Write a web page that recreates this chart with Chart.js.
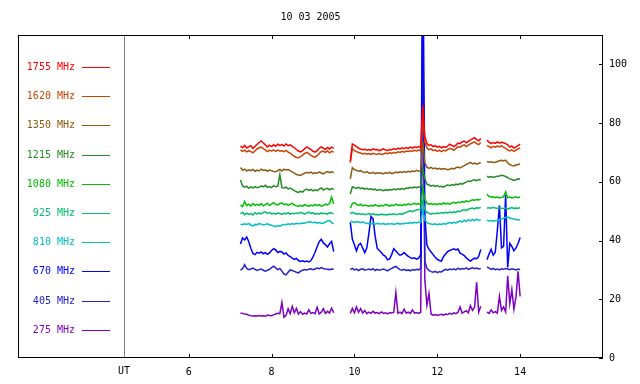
<!DOCTYPE html>
<html>
<head>
<meta charset="utf-8">
<script src="https://cdn.jsdelivr.net/npm/chart.js@4.4.1/dist/chart.umd.min.js"></script>
<style>
  html, body { margin: 0; padding: 0; background: #fff; }
  canvas { display: block; }
</style>
</head>
<body>
<canvas id="chart" width="640" height="384"></canvas>
<script>
// ---- data ----
const chartTitle = '10 03 2005';
const freqLabels = ['1755 MHz', '1620 MHz', '1350 MHz', '1215 MHz', '1080 MHz',
                    '925 MHz', '810 MHz', '670 MHz', '405 MHz', '275 MHz'];
const colors = ['#ff0000', '#c84400', '#8c5a10', '#228b22', '#00c000',
                '#00c070', '#00c0c0', '#0000ff', '#2424c8', '#8000c0'];
const xTicks = [6, 8, 10, 12, 14];
const yTicks = [0, 20, 40, 60, 80, 100];

// UT hours (three recording blocks)
const hours = [
  7.25,7.3,7.35,7.4,7.45,7.5,7.55,7.6,7.65,7.7,
  7.75,7.8,7.85,7.9,7.95,8,8.05,8.1,8.15,8.2,
  8.25,8.3,8.35,8.4,8.45,8.5,8.55,8.6,8.65,8.7,
  8.75,8.8,8.85,8.9,8.95,9,9.05,9.1,9.15,9.2,
  9.25,9.3,9.35,9.4,9.45,9.5,
  9.9,9.95,10,10.05,10.1,10.15,10.2,10.25,10.3,10.35,
  10.4,10.45,10.5,10.55,10.6,10.65,10.7,10.75,10.8,10.85,
  10.9,10.95,11,11.05,11.1,11.15,11.2,11.25,11.3,11.35,
  11.4,11.45,11.5,11.55,11.6,11.65,11.7,11.75,11.8,11.85,
  11.9,11.95,12,12.05,12.1,12.15,12.2,12.25,12.3,12.35,
  12.4,12.45,12.5,12.55,12.6,12.65,12.7,12.75,12.8,12.85,
  12.9,12.95,13,13.05,
  13.2,13.25,13.3,13.35,13.4,13.45,13.5,13.55,13.6,13.65,
  13.7,13.75,13.8,13.85,13.9,13.95,14
];

const v1755 = [
  72.2,71.6,72.4,71.5,72.0,72.3,71.4,72.0,72.8,73.4,
  73.9,73.2,72.6,71.9,72.5,72.0,72.6,72.1,72.8,72.4,
  72.7,72.2,72.9,72.3,72.6,72.1,71.6,71.0,70.5,70.2,
  70.6,71.3,71.8,71.5,71.0,70.4,70.1,70.6,71.4,71.9,
  71.5,71.0,71.7,71.2,71.8,71.4,
  67.0,72.9,72.5,72.0,71.4,71.2,70.9,71.1,70.8,71.0,
  70.7,71.2,70.9,71.0,70.6,70.9,71.2,70.8,70.7,71.0,
  70.9,71.3,71.0,71.5,71.2,71.6,71.3,71.7,71.4,71.8,
  71.5,71.9,71.6,72.0,71.7,86.0,75.5,73.0,72.4,72.6,
  72.0,72.3,71.8,72.1,71.6,72.0,71.7,72.2,72.8,72.4,
  72.0,72.5,73.2,73.0,73.6,73.9,73.3,73.8,74.3,74.6,
  75.0,74.4,74.0,74.7,
  74.2,73.5,73.0,73.4,73.1,73.6,73.2,73.5,73.3,73.0,
  72.6,71.8,72.2,71.5,71.9,72.3,72.8
];
const v1620 = [
  70.9,70.4,70.8,70.2,70.6,70.3,69.9,70.5,71.2,71.6,
  71.8,71.3,70.9,70.3,70.7,70.5,70.9,70.4,70.8,70.5,
  70.6,70.3,70.7,70.1,69.8,69.2,68.7,68.3,68.2,68.6,
  69.1,69.7,70.0,69.6,69.0,68.6,68.4,68.9,69.6,70.3,
  70.4,70.0,70.5,69.9,70.4,70.1,
  66.5,71.4,70.6,70.3,70.0,69.8,69.5,69.7,69.4,69.6,
  69.3,69.7,69.5,69.4,69.6,69.3,69.5,69.8,69.6,69.9,
  69.7,70.0,69.8,70.2,70.0,70.4,70.1,70.5,70.3,70.6,
  70.4,70.7,70.5,70.8,70.6,82.0,73.5,71.6,70.9,71.2,
  70.6,70.9,70.4,70.8,70.3,70.7,70.5,71.0,71.4,71.1,
  70.8,71.3,72.0,71.7,72.3,72.6,72.0,72.5,72.9,73.3,
  73.6,73.0,72.7,73.4,
  72.4,72.0,71.6,72.1,71.8,72.2,71.9,72.3,71.7,71.4,
  70.9,70.5,70.9,70.4,70.8,71.2,71.5
];
const v1350 = [
  64.9,64.0,64.3,63.7,64.1,63.8,64.2,63.6,64.0,63.7,
  64.3,63.9,64.1,63.6,64.0,63.8,63.5,63.4,63.8,64.2,
  63.7,64.3,64.0,64.2,63.8,63.4,63.0,62.5,62.3,62.2,
  62.6,62.9,63.2,63.0,63.3,62.8,63.1,62.9,63.4,63.0,
  62.7,63.2,63.5,63.1,63.4,63.2,
  61.0,64.8,64.2,63.9,63.6,63.8,63.4,63.1,63.5,63.0,
  62.9,63.2,62.8,63.1,62.9,63.0,62.7,63.1,62.9,63.2,
  62.8,63.0,63.3,63.1,63.4,63.2,63.5,63.3,63.6,63.4,
  63.7,63.5,63.9,63.6,63.8,73.5,66.5,65.0,64.6,64.9,
  64.5,64.7,64.3,64.6,64.2,64.5,64.4,64.1,64.3,64.6,
  64.4,64.8,65.0,64.7,65.2,65.5,65.9,66.3,66.6,66.1,
  66.4,66.0,66.3,66.5,
  66.9,66.7,66.8,66.6,66.7,66.9,67.2,67.3,67.1,67.4,
  66.5,65.9,65.6,65.4,65.7,65.9,66.1
];
const v1215 = [
  60.6,58.6,58.2,58.5,57.8,58.3,57.9,58.4,58.0,58.2,
  58.6,58.3,58.8,58.1,58.4,58.0,58.7,58.3,58.5,62.4,
  58.0,57.9,58.2,57.6,57.9,57.4,57.0,56.6,56.4,56.8,
  56.5,57.2,57.5,57.1,57.4,56.9,57.3,57.0,57.5,57.9,
  57.2,57.6,57.8,57.3,57.7,57.5,
  55.8,58.3,58.0,57.8,58.1,57.7,57.9,57.5,57.8,57.4,
  57.6,57.3,57.5,57.1,57.4,57.2,57.0,57.3,57.1,57.4,
  57.2,57.5,57.3,57.6,57.4,57.7,57.5,57.9,57.8,58.1,
  57.9,58.2,58.0,58.3,58.1,64.5,61.0,59.2,58.9,58.5,
  58.8,58.4,58.7,58.3,58.5,58.2,58.6,58.9,58.7,59.1,
  58.8,59.2,59.0,59.4,59.2,59.6,59.9,60.3,60.1,60.5,
  60.7,60.4,60.8,60.6,
  61.9,61.6,61.8,61.5,61.7,61.9,62.0,62.2,62.1,61.8,
  61.4,61.0,60.8,60.5,60.7,61.0,60.9
];
const v1080 = [
  52.1,51.6,53.3,51.9,52.4,51.8,52.6,51.9,52.3,52.0,
  52.5,51.8,52.2,52.7,52.0,52.4,52.9,52.3,52.1,52.6,
  52.8,52.2,52.5,52.0,52.4,52.7,52.1,51.8,51.6,52.0,
  51.7,52.2,51.9,51.6,52.1,51.8,52.3,51.9,52.2,51.7,
  51.9,52.4,52.1,52.6,54.8,52.5,
  51.0,52.6,52.9,52.3,52.0,52.4,51.8,52.1,51.9,51.6,
  52.0,51.7,52.2,51.9,51.6,52.0,51.8,52.3,52.0,51.7,
  52.1,51.9,52.4,52.0,52.2,51.9,52.3,52.1,52.5,52.2,
  52.4,52.7,52.3,52.6,52.4,58.0,54.0,52.7,52.4,52.6,
  52.3,52.5,52.2,52.6,52.3,52.8,52.5,52.7,52.4,52.8,
  53.0,52.7,53.1,52.9,53.3,53.1,53.5,53.2,53.6,53.9,
  53.7,54.0,53.8,54.1,
  55.8,55.0,54.8,54.9,54.6,54.8,54.5,54.7,54.9,56.6,
  54.6,54.8,54.5,54.7,54.9,54.6,54.8
];
const v925 = [
  49.1,49.6,48.8,49.3,48.9,49.2,48.7,49.5,49.0,49.4,
  49.1,49.6,49.8,49.3,49.5,49.1,49.3,49.0,49.4,49.2,
  48.9,49.3,49.1,49.5,49.0,49.3,49.1,49.4,49.2,49.6,
  49.3,49.0,49.4,49.7,49.2,49.5,48.9,49.3,49.0,49.4,
  49.1,49.3,49.0,49.5,49.3,49.2,
  49.2,49.6,49.3,49.0,49.2,48.9,49.1,48.8,49.0,49.2,
  48.9,49.1,48.8,48.9,48.7,49.0,48.8,48.9,48.7,49.0,
  48.9,49.1,48.8,49.0,49.2,48.9,49.3,49.6,49.9,50.1,
  49.8,50.2,50.4,50.6,50.3,53.5,50.5,49.6,49.3,49.0,
  49.3,49.1,49.4,49.2,49.5,49.3,49.6,49.4,49.7,49.5,
  49.8,49.6,50.0,49.8,50.3,50.5,50.2,50.7,50.9,51.1,
  50.8,51.2,51.0,51.3,
  51.0,51.2,51.0,51.3,51.1,51.0,51.2,51.0,50.9,51.1,
  50.8,51.0,51.2,50.9,51.1,51.0,51.2
];
const v810 = [
  45.6,45.4,45.7,45.5,45.8,45.3,45.0,45.5,45.4,45.8,
  45.6,45.3,45.5,45.7,45.4,45.2,45.0,44.7,45.1,44.9,
  45.3,45.5,45.4,45.7,45.5,45.8,45.6,45.9,45.7,45.8,
  46.0,45.9,46.2,46.4,46.3,46.1,46.3,45.9,46.1,45.8,
  46.0,46.2,46.7,46.8,46.1,45.7,
  46.6,46.4,46.2,46.5,46.3,46.1,46.4,46.0,45.8,45.9,
  45.7,45.8,45.6,45.9,45.7,45.6,45.8,45.5,45.7,45.6,
  45.8,45.5,45.7,45.9,45.6,45.8,45.7,46.0,45.8,46.1,
  45.9,46.2,46.0,46.3,46.1,50.5,47.0,46.1,45.8,45.6,
  45.5,45.7,45.4,45.6,45.5,45.8,45.6,45.9,46.1,45.8,
  46.2,46.0,46.4,46.6,46.3,46.9,46.5,47.1,46.7,47.2,
  46.8,47.3,46.9,47.1,
  46.9,46.7,46.8,46.6,46.8,46.9,47.1,47.3,47.6,47.9,
  48.0,47.7,47.5,47.3,47.2,47.0,47.1
];
const v670 = [
  38.8,40.9,40.2,41.2,39.6,37.4,35.6,35.2,36.0,35.7,
  36.1,35.5,35.9,35.3,35.8,36.6,37.2,36.8,35.9,36.3,
  36.1,35.4,35.8,34.9,34.5,34.0,33.6,33.9,33.2,32.9,
  33.1,32.8,33.0,32.7,33.2,34.4,36.0,37.9,39.6,40.4,
  39.2,38.6,37.8,38.9,39.7,36.2,
  46.2,40.5,38.6,36.5,38.5,39.0,37.4,35.9,37.5,42.5,
  48.2,47.4,41.5,37.4,36.6,35.9,35.0,34.6,33.4,33.7,
  35.3,37.2,36.4,35.6,35.0,35.3,35.9,35.2,34.6,34.2,
  33.9,34.1,33.7,34.0,35.2,150,48.0,38.5,37.0,36.1,
  35.2,34.3,33.6,33.2,33.0,34.5,35.4,36.2,36.6,36.9,
  37.2,36.8,37.1,35.7,35.4,34.9,34.1,33.5,33.0,33.6,
  34.0,33.8,34.6,37.0,
  33.5,35.4,37.0,35.0,36.0,43.5,52.0,37.5,38.0,55.5,
  30.8,39.0,38.0,36.5,37.5,39.0,41.0
];
const v405 = [
  29.9,30.4,31.8,30.5,30.1,30.3,30.6,30.2,29.8,30.1,
  30.3,29.9,29.6,29.9,30.2,30.8,31.3,30.7,30.1,30.5,
  29.6,28.6,28.3,29.2,30.0,29.8,29.5,29.2,29.0,29.6,
  29.9,30.1,30.0,30.2,30.4,30.1,30.3,30.6,30.4,30.8,
  30.5,30.3,30.2,30.1,30.3,30.2,
  30.1,30.5,30.0,30.3,29.8,30.2,30.4,29.9,30.1,30.3,
  30.0,30.4,29.8,30.2,29.9,30.1,30.3,30.0,29.7,30.2,
  30.5,30.9,31.2,30.6,30.1,29.9,30.2,29.8,30.0,29.7,
  30.1,29.9,30.2,30.0,30.5,118,33.0,30.6,29.8,29.4,
  29.2,29.5,29.1,29.4,29.3,29.8,30.2,29.9,30.3,30.1,
  30.4,30.0,30.6,30.2,30.5,30.3,30.7,30.2,30.5,30.8,
  30.4,30.6,30.3,30.5,
  31.0,30.6,30.2,30.5,30.1,30.3,30.0,30.4,30.2,30.5,
  30.3,30.1,30.4,30.2,30.0,30.3,30.1
];
const v275 = [
  15.3,15.2,15.0,14.9,14.6,14.4,14.3,14.4,14.3,14.5,
  14.3,14.4,14.2,14.6,14.5,14.4,14.7,15.0,15.2,15.1,
  18.9,13.9,14.5,16.8,15.1,17.6,15.4,16.9,15.0,15.8,
  14.9,15.3,15.0,16.4,15.2,15.5,15.1,17.3,15.0,15.6,
  16.8,15.2,15.9,15.3,17.0,15.4,
  15.2,16.9,15.4,17.4,15.6,16.8,15.3,16.2,15.1,15.6,
  15.2,15.9,15.3,15.5,15.1,15.7,15.2,15.4,15.0,15.5,
  15.3,15.6,22.3,15.2,15.6,15.1,16.6,15.3,15.6,15.2,
  16.4,15.3,15.5,15.2,15.6,116,26.5,18.0,22.0,15.0,
  14.6,14.8,14.5,14.7,14.9,14.6,15.0,14.8,15.2,14.9,
  15.4,15.1,15.6,17.4,15.3,15.7,16.1,15.4,17.9,16.2,
  17.3,25.8,15.6,17.6,
  15.6,15.2,16.4,15.4,15.8,15.3,21.0,16.2,17.4,15.7,
  28.0,18.5,23.3,16.6,20.8,29.5,21.0
];

const series = [v1755, v1620, v1350, v1215, v1080, v925, v810, v670, v405, v275];

const utHour = 4.44;   // position of the UT marker line
const FONT = "10px 'DejaVu Sans Mono', monospace";

// build points, breaking the line across recording gaps
function toPoints(vals) {
  const pts = [];
  hours.forEach((h, i) => {
    if (i > 0 && h - hours[i - 1] > 0.08) pts.push({ x: (h + hours[i - 1]) / 2, y: null });
    pts.push({ x: h, y: vals[i] });
  });
  return pts;
}

// ---- frame, ticks, title and channel legend ----
const decor = {
  id: 'decor',
  beforeDatasetsDraw(chart) {
    const { ctx, chartArea: a, scales: { x } } = chart;
    const ux = Math.round(x.getPixelForValue(utHour));
    ctx.save();
    ctx.fillStyle = '#808080';
    ctx.fillRect(ux, a.top, 1, a.bottom - a.top);
    ctx.restore();
  },
  afterDraw(chart) {
    const { ctx, chartArea: a, scales: { x, y } } = chart;
    ctx.save();
    ctx.strokeStyle = '#000';
    ctx.lineWidth = 1;
    ctx.strokeRect(a.left + 0.5, a.top + 0.5, a.right - a.left - 1, a.bottom - a.top - 1);

    ctx.beginPath();
    xTicks.forEach(v => {
      const px = Math.round(x.getPixelForValue(v)) + 0.5;
      ctx.moveTo(px, a.bottom); ctx.lineTo(px, a.bottom - 4);
      ctx.moveTo(px, a.top);    ctx.lineTo(px, a.top + 4);
    });
    yTicks.forEach(v => {
      const py = Math.round(y.getPixelForValue(v)) + 0.5;
      ctx.moveTo(a.right, py); ctx.lineTo(a.right - 4, py);
    });
    ctx.stroke();

    ctx.font = FONT;
    ctx.fillStyle = '#000';
    ctx.textAlign = 'center';
    ctx.textBaseline = 'middle';
    ctx.fillText(chartTitle, (a.left + a.right) / 2, 17);
    ctx.fillText('UT', x.getPixelForValue(utHour), 371);

    // channel legend on the left
    ctx.textAlign = 'right';
    freqLabels.forEach((lab, i) => {
      const ly = Math.round(67 + i * 29.2);
      ctx.fillStyle = colors[i];
      ctx.fillText(lab, 75, ly);
      ctx.fillRect(82, ly, 28, 1);
    });
    ctx.restore();
  }
};

new Chart(document.getElementById('chart'), {
  type: 'line',
  data: {
    datasets: series.map((vals, i) => ({
      label: freqLabels[i],
      data: toPoints(vals),
      borderColor: colors[i],
      borderWidth: 1.5,
      pointRadius: 0,
      tension: 0,
      spanGaps: false
    }))
  },
  options: {
    responsive: false,
    animation: false,
    layout: { padding: { top: 35, left: 18, right: 0, bottom: 0 } },
    plugins: { legend: { display: false }, tooltip: { enabled: false } },
    scales: {
      x: {
        type: 'linear',
        min: 1.88,
        max: 16,
        afterBuildTicks: s => { s.ticks = xTicks.map(v => ({ value: v })); },
        afterFit: s => { s.height = 26; },
        grid: { display: false, drawTicks: false },
        border: { display: false },
        ticks: { color: '#000', font: { family: "'DejaVu Sans Mono', monospace", size: 10 }, padding: 8, maxRotation: 0 }
      },
      y: {
        position: 'right',
        min: 0,
        max: 110,
        afterBuildTicks: s => { s.ticks = yTicks.map(v => ({ value: v })); },
        afterFit: s => { s.width = 37; },
        grid: { display: false, drawTicks: false },
        border: { display: false },
        ticks: { color: '#000', font: { family: "'DejaVu Sans Mono', monospace", size: 10 }, padding: 6 }
      }
    }
  },
  plugins: [decor]
});
</script>
</body>
</html>
